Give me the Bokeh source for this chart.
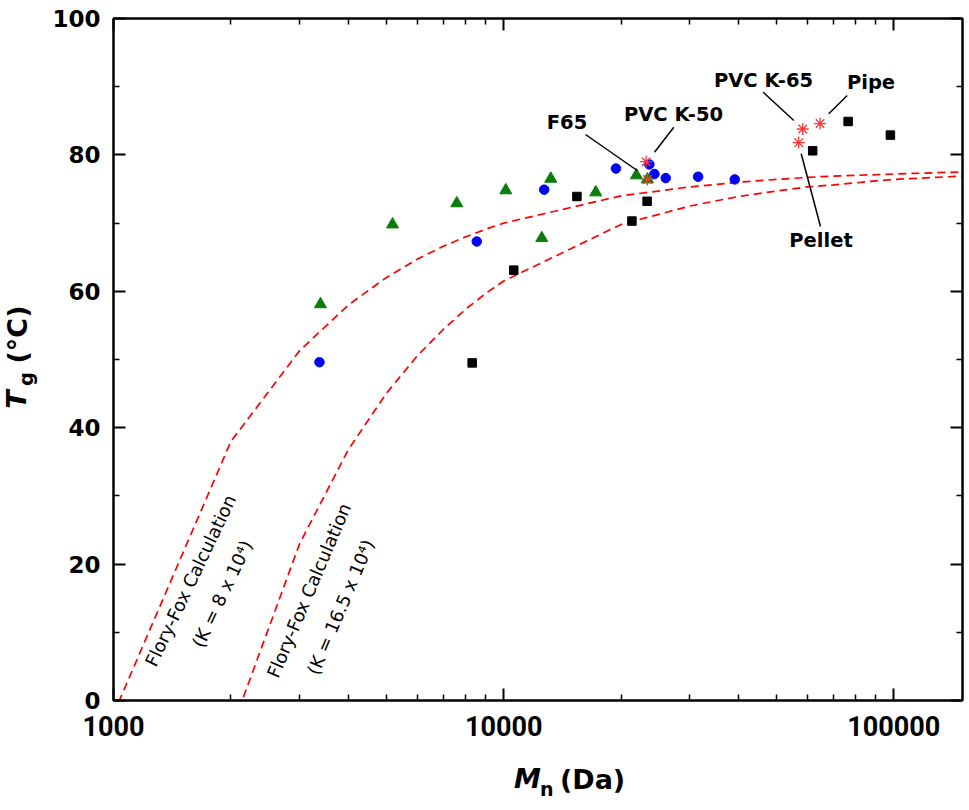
import math
from bokeh.plotting import figure
from bokeh.layouts import row, column
from bokeh.models import (LogAxis, LinearAxis, FixedTicker, NumeralTickFormatter,
                          CustomJSTickFormatter, Label, Arrow, Range1d)
from bokeh.core.properties import value
from bokeh.embed import file_html
from bokeh.resources import INLINE

# ---------------- data ----------------
blue_mn = [3372, 8533, 12703, 19400, 23630, 24350, 26030, 31510, 39110]
blue_tg = [49.6, 67.3, 74.9, 78.0, 78.6, 77.2, 76.6, 76.8, 76.4]

green_mn = [3392, 5190, 7584, 10125, 12523, 13205, 17220, 21890, 23360]
green_tg = [58.1, 69.8, 72.9, 74.8, 67.8, 76.5, 74.5, 77.0, 76.4]

black_mn = [8305, 10615, 15410, 21320, 23320, 61960, 76380, 98010]
black_tg = [49.5, 63.1, 73.9, 70.3, 73.2, 80.6, 84.9, 82.9]

star_mn = [23180, 23360, 57060, 58420, 64730]
star_tg = [79.0, 76.4, 81.8, 83.8, 84.6]

# Flory-Fox calculated values (K = 8e4 and K = 16.5e4)
ff_mn = [1000, 2000, 3000, 4000, 5000, 6000, 7000, 8000, 9000, 10000,
         20000, 30000, 40000, 50000, 60000, 70000, 80000, 90000, 100000, 150000]
ff1_tg = [-2.0, 38.0, 51.3, 58.0, 62.0, 64.7, 66.6, 68.0, 69.1, 70.0,
          74.0, 75.3, 76.0, 76.4, 76.7, 76.9, 77.0, 77.1, 77.2, 77.5]
ff2_tg = [-87.0, -4.5, 23.0, 36.8, 45.0, 50.5, 54.4, 57.4, 59.7, 61.5,
          69.8, 72.5, 73.9, 74.7, 75.3, 75.6, 75.9, 76.2, 76.4, 76.9]

x_major = [1000, 10000, 100000]
x_minor = [2000, 3000, 4000, 5000, 6000, 7000, 8000, 9000,
           20000, 30000, 40000, 50000, 60000, 70000, 80000, 90000]
y_major = [0, 20, 40, 60, 80, 100]
y_minor = [10, 30, 50, 70, 90]

ann_text = ["F65", "PVC K-50", "PVC K-65", "Pipe", "Pellet"]
ylabel_parts = ["T", "g", "(\u00b0C)"]
xlabel_parts = ["M", "n", "(Da)"]

FONT = "DejaVu Sans"
LEFT_W = 40          # width of the y-title strip
MAIN_W = 926
MAIN_H = 755
XLAB_H = 50

# ---------------- main figure ----------------
p = figure(width=MAIN_W, height=MAIN_H, x_axis_type="log",
           x_range=Range1d(1000, 150000), y_range=Range1d(0, 100),
           output_backend="svg", toolbar_location=None,
           min_border_left=113 - LEFT_W, min_border_right=4,
           min_border_top=18, min_border_bottom=MAIN_H - 700)
p.grid.visible = False
p.outline_line_color = "black"
p.outline_line_width = 2
p.background_fill_color = "white"
p.border_fill_color = "white"

xt = FixedTicker(ticks=x_major, minor_ticks=x_minor)
yt = FixedTicker(ticks=y_major, minor_ticks=y_minor)

def style_axis(ax, show_labels):
    ax.axis_line_width = 2
    ax.axis_line_color = "black"
    ax.major_tick_line_width = 2
    ax.minor_tick_line_width = 1.5
    ax.major_tick_in = 12
    ax.major_tick_out = 0
    ax.minor_tick_in = 6
    ax.minor_tick_out = 0
    if not show_labels:
        ax.formatter = CustomJSTickFormatter(code="return ''")
        ax.major_label_text_font_size = "1px"
        ax.major_label_standoff = 0

bx = p.below[0]
bx.ticker = xt
bx.formatter = NumeralTickFormatter(format="0")
style_axis(bx, True)
bx.major_label_text_font = "Roboto"
bx.major_label_text_font_style = "bold"
bx.major_label_text_font_size = "27px"
bx.major_label_text_color = "black"
bx.major_label_standoff = 15

ly = p.left[0]
ly.ticker = yt
style_axis(ly, True)
ly.major_label_text_font = FONT
ly.major_label_text_font_style = "bold"
ly.major_label_text_font_size = "23px"
ly.major_label_text_color = "black"
ly.major_label_standoff = 13

tx = LogAxis(ticker=xt)
style_axis(tx, False)
p.add_layout(tx, "above")
ry = LinearAxis(ticker=yt)
style_axis(ry, False)
p.add_layout(ry, "right")

p.line(ff_mn, ff1_tg, line_color="#ff0000", line_width=1.7, line_dash="8 5")
p.line(ff_mn, ff2_tg, line_color="#ff0000", line_width=1.7, line_dash="8 5")

p.scatter(black_mn, black_tg, marker="square", size=8.5, color="black")
p.scatter(green_mn, green_tg, marker="triangle", size=12, color="#0a7d0a")
p.scatter(blue_mn, blue_tg, marker="circle", size=9.5, color="#0000ff")
p.scatter(star_mn, star_tg, marker="asterisk", size=12, line_color="#ff3535",
          line_width=1.3)

# annotations (screen units relative to the frame)
ann_pos = [(453.5, 578), (560, 586), (650, 620.5), (757.5, 618), (707.5, 460)]
for t, (ax_, ay_) in zip(ann_text, ann_pos):
    p.add_layout(Label(x=ax_, y=ay_, x_units="screen", y_units="screen", text=t,
                       text_font=FONT, text_font_style="bold",
                       text_font_size="19.5px", text_align="center",
                       text_baseline="middle", text_color="black"))

leaders = [((472, 566), (523.7, 530)), ((560.3, 573.3), (541, 548.3)),
           ((649.7, 608.3), (680.3, 580)), ((733.7, 605), (715.3, 586.7)),
           ((687.7, 546.7), (707, 474))]
for (x0, y0), (x1, y1) in leaders:
    p.add_layout(Arrow(end=None, x_start=x0, y_start=y0, x_end=x1, y_end=y1,
                       start_units="screen", end_units="screen",
                       line_color="black", line_width=1.5))

ff_labels = [("Flory-Fox Calculation", 77, 120, 64.5),
             ("(K = 8 x 10\u2074)", 108.7, 106.7, 64.5),
             ("Flory-Fox Calculation", 195.3, 110, 67),
             ("(K = 16.5 x 10\u2074)", 227, 93.3, 67)]
for t, lx, ly_, ang in ff_labels:
    p.add_layout(Label(x=lx, y=ly_, x_units="screen", y_units="screen", text=t,
                       angle=math.radians(ang), text_font=FONT,
                       text_font_size="18px", text_align="center",
                       text_baseline="middle", text_color="black"))

# ---------------- title strips (pixel coordinates) ----------------
def strip(w, h):
    f = figure(width=w, height=h, x_range=Range1d(0, w), y_range=Range1d(h, 0),
               output_backend="svg", toolbar_location=None,
               x_axis_location=None, y_axis_location=None,
               min_border=0, min_border_left=0, min_border_right=0,
               min_border_top=0, min_border_bottom=0)
    f.grid.visible = False
    f.outline_line_color = None
    f.background_fill_color = "white"
    f.border_fill_color = "white"
    return f

yl = strip(LEFT_W, MAIN_H)
y_px = [[16, 399, "27px", "bold italic"], [25, 378.5, "19px", "bold"],
        [16.5, 334, "27px", "bold"]]
for t, (px, py, fs, st) in zip(ylabel_parts, y_px):
    yl.text(x=[px], y=[py], text=[t], angle=math.pi / 2,
            text_font=value(FONT), text_font_style=st, text_font_size=fs,
            text_align="center", text_baseline="middle", text_color="black")

xl = strip(MAIN_W, XLAB_H)
x_px = [[491.5 - LEFT_W, 23, "27px", "bold italic"],
        [512.5 - LEFT_W, 33.5, "19px", "bold"],
        [562.5 - LEFT_W, 23.5, "27px", "bold"]]
for t, (px, py, fs, st) in zip(xlabel_parts, x_px):
    xl.text(x=[px], y=[py], text=[t],
            text_font=value(FONT), text_font_style=st, text_font_size=fs,
            text_align="center", text_baseline="middle", text_color="black")

layout = row(yl, column(p, xl, spacing=0), spacing=0)
open("out.html", "w").write(file_html(layout, INLINE))
